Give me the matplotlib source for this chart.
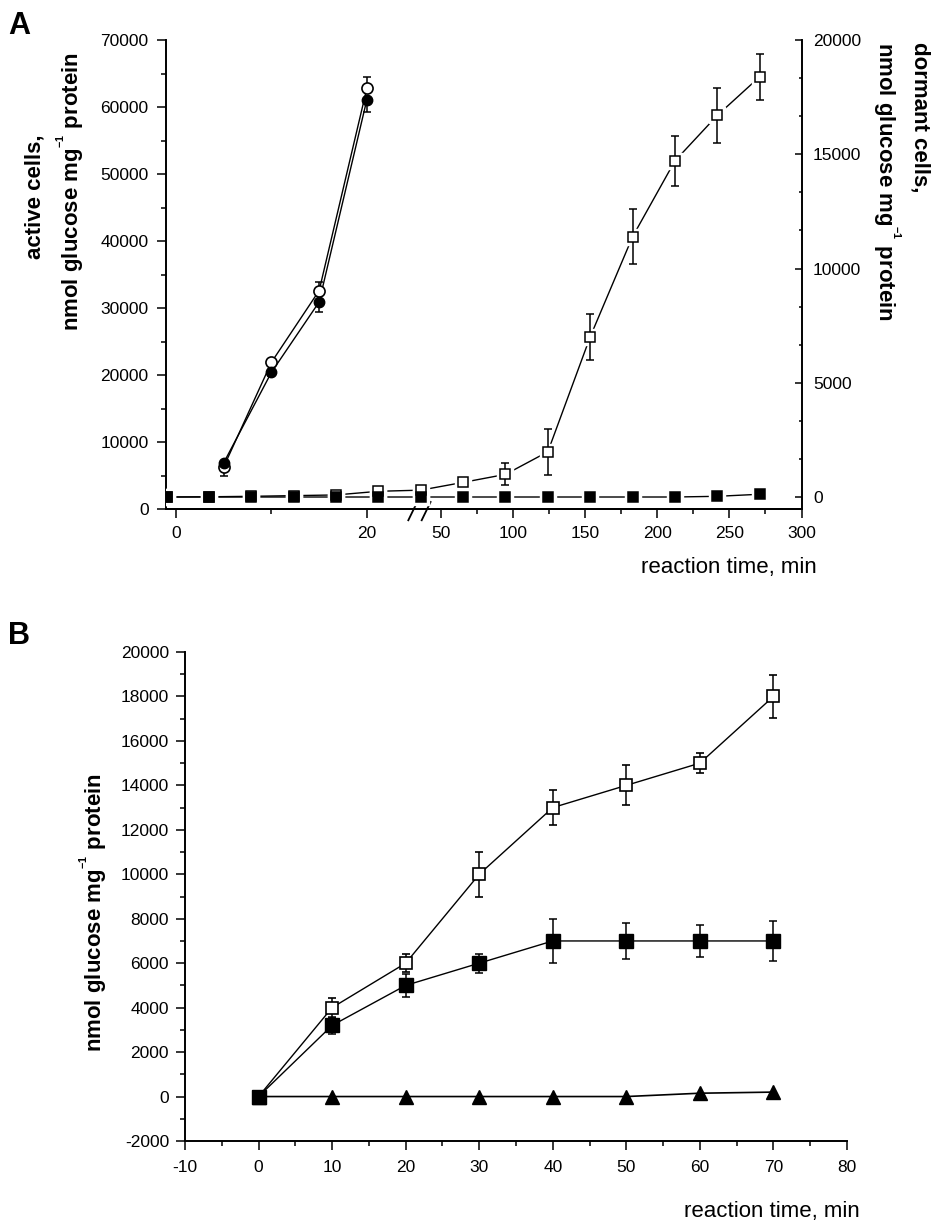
import matplotlib
matplotlib.use("Agg")
import matplotlib.pyplot as plt
from matplotlib.ticker import MultipleLocator, AutoMinorLocator, FixedLocator

plt.rcParams['font.family'] = ['Liberation Sans', 'DejaVu Sans']
plt.rcParams['axes.unicode_minus'] = False
plt.rcParams['mathtext.default'] = 'regular'

# ---- panel A: active cells (left axis), minutes 0-20
act_t = [5, 10, 15, 20]
act_open = [6300, 21900, 32600, 62800]
act_open_err = [600, 400, 1300, 1700]
act_fill = [6900, 20400, 30900, 61100]
act_fill_err = [2000, 500, 1500, 1800]

# ---- panel A: dormant cells (right axis)
dor_t = [0, 20, 40, 60, 80, 100, 120, 140, 160, 180, 200, 220, 240, 260, 280]
dor_open = [0, 10, 30, 60, 90, 250, 300, 640, 990, 1980, 7010, 11390, 14710, 16700, 18390]
dor_open_err = [0, 0, 0, 0, 0, 0, 0, 150, 480, 1000, 1000, 1200, 1100, 1200, 1000]
dor_fill = [0, 0, 0, 0, 0, 0, 0, 0, 0, 0, 0, 0, 0, 30, 120]

a_left_ticks = [0, 20]
a_left_minor = [10]
a_right_ticks = [50, 100, 150, 200, 250, 300]
a_right_minor = [75, 125, 175, 225, 275]

# ---- panel B
b_t = [0, 10, 20, 30, 40, 50, 60, 70]
b_open = [0, 4000, 6000, 10000, 13000, 14000, 15000, 18000]
b_open_err = [0, 450, 400, 1000, 800, 900, 450, 950]
b_fill = [0, 3200, 5000, 6000, 7000, 7000, 7000, 7000]
b_fill_err = [0, 400, 520, 420, 1000, 800, 700, 900]
b_tri = [0, 0, 0, 0, 0, 0, 150, 200]

W, H = 950, 1228
fig = plt.figure(figsize=(W / 100, H / 100), dpi=100)

YLAB = r'nmol glucose mg$^{^{-1}}$ protein'


def rect(l, t, r, b):
    return [l / W, 1 - b / H, (r - l) / W, (b - t) / H]


def style_ticks(ax, axis='both'):
    ax.tick_params(axis=axis, which='major', direction='out', length=6.5, width=1.1,
                   labelsize=12.5, pad=5)
    ax.tick_params(axis=axis, which='minor', direction='out', length=3.5, width=1.1)


def gapped(ax, x, y, marker, ms, fc, yerr=None):
    # line broken around the symbols, like the original plot
    ax.plot(x, y, color='k', lw=1, zorder=2)
    ax.plot(x, y, ls='none', marker=marker, ms=ms + 5, mfc='w', mec='w', zorder=3)
    if yerr is not None:
        ax.errorbar(x, y, yerr=yerr, fmt='none', ecolor='k', elinewidth=1.1,
                    capsize=2.6, capthick=1.1, zorder=4)
    ax.plot(x, y, ls='none', marker=marker, ms=ms, mfc=fc, mec='k', mew=1.1, zorder=5)


# ================= panel A =================
axA = fig.add_axes(rect(166, 40, 802, 509))
axD = fig.add_axes(rect(166, 40, 802, 509))
axD.patch.set_visible(False)

# active cells
axA.plot(act_t, act_open, color='k', lw=1, zorder=2)
axA.errorbar(act_t, act_open, yerr=[[0] * 4, act_open_err], fmt='none', ecolor='k',
             elinewidth=1.1, capsize=3, capthick=1.1, zorder=3)
axA.plot(act_t, act_open, ls='none', marker='o', ms=8, mfc='w', mec='k', mew=1.2, zorder=4)
axA.plot(act_t, act_fill, color='k', lw=1, zorder=2)
axA.errorbar(act_t, act_fill, yerr=[act_fill_err, [0] * 4], fmt='none', ecolor='k',
             elinewidth=1.1, capsize=3, capthick=1.1, zorder=3)
axA.plot(act_t, act_fill, ls='none', marker='o', ms=7.5, mfc='k', mec='k', zorder=5)

axA.set_xlim(-1.05, 65.6)
axA.set_ylim(0, 70000)
axA.xaxis.set_major_locator(FixedLocator(a_left_ticks))
axA.xaxis.set_minor_locator(FixedLocator(a_left_minor))
axA.yaxis.set_major_locator(MultipleLocator(10000))
axA.yaxis.set_minor_locator(AutoMinorLocator(2))
axA.spines[['top', 'right']].set_visible(False)
for s in ['left', 'bottom']:
    axA.spines[s].set_linewidth(1.4)
style_ticks(axA)
axA.tick_params(axis='y', which='major', pad=6)
axA.tick_params(axis='x', which='major', pad=6)

# broken time axis: 50-300 min section
U50, R = 27.75, 6.613
secA = axA.secondary_xaxis('bottom', functions=(lambda u: 50 + (u - U50) * R,
                                                lambda m: U50 + (m - 50) / R))
secA.set_ticks(a_right_ticks)
secA.xaxis.set_minor_locator(FixedLocator(a_right_minor))
secA.spines['bottom'].set_linewidth(1.4)
style_ticks(secA, 'x')
secA.tick_params(axis='x', which='major', pad=6)

for bx in (0.388, 0.409):
    axA.plot([bx - 0.007, bx + 0.007], [-0.024, 0.015], transform=axA.transAxes,
             color='k', lw=1.3, clip_on=False, zorder=6)

# dormant cells
gapped(axD, dor_t, dor_open, 's', 6.5, 'w', yerr=dor_open_err)
gapped(axD, dor_t, dor_fill, 's', 6.5, 'k')
axD.set_xlim(-0.3, 300)
axD.set_ylim(-525, 20000)
axD.xaxis.set_visible(False)
axD.yaxis.tick_right()
axD.yaxis.set_major_locator(MultipleLocator(5000))
axD.yaxis.set_minor_locator(AutoMinorLocator(3))
for s in ['left', 'top', 'bottom']:
    axD.spines[s].set_visible(False)
axD.spines['right'].set_linewidth(1.4)
axD.tick_params(axis='y', which='major', direction='in', length=5, width=1.1,
                labelsize=12.5, pad=8)
axD.tick_params(axis='y', which='minor', direction='in', length=2.5, width=1.1)

lab = dict(fontsize=16, fontweight='bold')
fig.text(35 / W, 1 - 197 / H, 'active cells,', rotation=90, ha='center', va='center', **lab)
fig.text(70 / W, 1 - 192 / H, YLAB, rotation=90, ha='center', va='center', **lab)
fig.text(920 / W, 1 - 42 / H, 'dormant cells,', rotation=270, ha='center', va='top', **lab)
fig.text(887 / W, 1 - 42 / H, YLAB, rotation=270, ha='center', va='top', **lab)
fig.text(817 / W, 1 - 567 / H, 'reaction time, min', ha='right', va='center', fontsize=16)
fig.text(8 / W, 1 - 34 / H, 'A', fontsize=22, fontweight='bold', ha='left', va='baseline')

# ================= panel B =================
axB = fig.add_axes(rect(185, 652, 847, 1141))
axB.errorbar(b_t, b_open, yerr=b_open_err, color='k', lw=1, marker='s', ms=9, mfc='w',
             mec='k', mew=1.2, ecolor='k', elinewidth=1.1, capsize=3, capthick=1.1, zorder=3)
axB.errorbar(b_t, b_fill, yerr=b_fill_err, color='k', lw=1, marker='s', ms=9.5, mfc='k',
             mec='k', ecolor='k', elinewidth=1.1, capsize=3, capthick=1.1, zorder=4)
axB.plot(b_t, b_tri, color='k', lw=1.2, marker='^', ms=9.5, mfc='k', mec='k', zorder=5)

axB.set_xlim(-10, 80)
axB.set_ylim(-2000, 20000)
axB.xaxis.set_major_locator(MultipleLocator(10))
axB.xaxis.set_minor_locator(AutoMinorLocator(2))
axB.yaxis.set_major_locator(MultipleLocator(2000))
axB.yaxis.set_minor_locator(AutoMinorLocator(2))
axB.spines[['top', 'right']].set_visible(False)
for s in ['left', 'bottom']:
    axB.spines[s].set_linewidth(1.4)
style_ticks(axB)
axB.tick_params(axis='x', which='major', pad=7)

fig.text(93 / W, 1 - 913 / H, YLAB, rotation=90, ha='center', va='center', **lab)
fig.text(860 / W, 1 - 1211 / H, 'reaction time, min', ha='right', va='center', fontsize=16)
fig.text(8 / W, 1 - 644 / H, 'B', fontsize=22, fontweight='bold', ha='left', va='baseline')

fig.savefig('out.png', dpi=100)
